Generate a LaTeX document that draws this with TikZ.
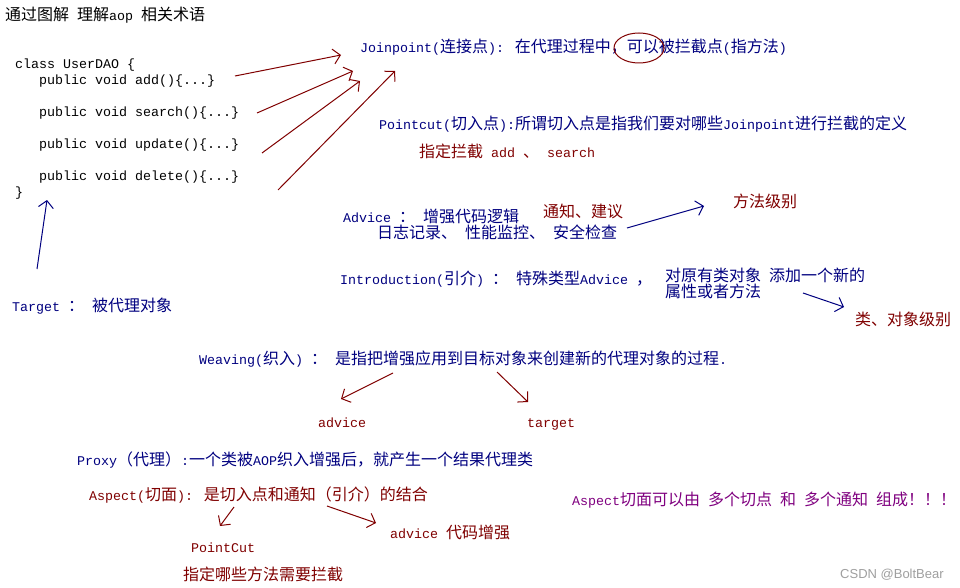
\documentclass[tikz,border=0pt]{standalone}
\usepackage{fontspec}
\setmainfont{Liberation Mono}[Scale=0.8333]
\newfontfamily\zhfont{Noto Sans CJK SC}
\newfontfamily\wmfont{Liberation Sans}
\newcommand\zh[1]{{\zhfont #1}}
\usetikzlibrary{arrows.meta}
\definecolor{aopblue}{RGB}{0,0,128}
\definecolor{aopred}{RGB}{128,0,0}
\definecolor{aoppurple}{RGB}{128,0,128}
\begin{document}
\begin{tikzpicture}[x=1pt,y=-1pt,font=\fontsize{16}{16}\selectfont,
  txt/.style={anchor=west,inner sep=0pt,text height=11pt,text depth=0pt},
  blu/.style={txt,text=aopblue},
  red/.style={txt,text=aopred},
  arr/.style={line width=1pt,-{Straight Barb[length=7pt,width=15pt]}}]
\fill[white] (0,0) rectangle (960,588);
\useasboundingbox (0,0) rectangle (960,588);
% title and the class
\node[txt] (title) at (5,15) {\zh{通过图解} \zh{理解}aop \zh{相关术语}};
\node[txt] (cls) at (15,63) {class UserDAO \{};
\node[txt] (add) at (39,79) {public void add()\{...\}};
\node[txt] (search) at (39,111) {public void search()\{...\}};
\node[txt] (update) at (39,143) {public void update()\{...\}};
\node[txt] (delete) at (39,175) {public void delete()\{...\}};
\node[txt] (close) at (15,191) {\}};
% joinpoint, pointcut
\node[blu] (jp) at (360,47) {Joinpoint(\zh{连接点}): \zh{在代理过程中，可以被拦截点}(\zh{指方法})};
\draw[aopred,line width=1pt] (639,48) ellipse [x radius=25,y radius=15];
\node[blu] (pc) at (379,124) {Pointcut(\zh{切入点}):\zh{所谓切入点是指我们要对哪些}Joinpoint\zh{进行拦截的定义}};
\node[red] (pcadd) at (419,152) {\zh{指定拦截} add \zh{、} search};
\coordinate (s1) at (235,76);  \coordinate (j1) at (341,55);
\coordinate (s2) at (257,113); \coordinate (j2) at (353,71);
\coordinate (s3) at (262,153); \coordinate (j3) at (360,81);
\coordinate (s4) at (278,190); \coordinate (j4) at (395,71);
\foreach \i in {1,...,4}
  \draw[arr,aopred] (s\i) -- (j\i);
% advice, introduction
\node[blu] (adv) at (343,217) {Advice \zh{：} \zh{增强代码逻辑}};
\node[blu] (advex) at (377,233) {\zh{日志记录、} \zh{性能监控、} \zh{安全检查}};
\node[red] (advzh) at (543,212) {\zh{通知、建议}};
\node[red] (mlevel) at (733,202) {\zh{方法级别}};
\coordinate (a1) at (627,228); \coordinate (a2) at (704,206);
\draw[arr,aopblue] (a1) -- (a2);
\node[blu] (intro) at (340,279) {Introduction(\zh{引介}) \zh{：} \zh{特殊类型}Advice \zh{，}};
\node[blu] (introex) at (665,276) {\zh{对原有类对象} \zh{添加一个新的}};
\node[blu] (introex2) at (665,292) {\zh{属性或者方法}};
\node[red] (clevel) at (855,320) {\zh{类、对象级别}};
\coordinate (i1) at (803,293); \coordinate (i2) at (844,307);
\draw[arr,aopblue] (i1) -- (i2);
% target
\node[blu] (tgt) at (12,306) {Target \zh{：} \zh{被代理对象}};
\coordinate (t1) at (37,269); \coordinate (t2) at (47,200);
\draw[arr,aopblue] (t1) -- (t2);
% weaving
\node[blu] (weave) at (199,359) {Weaving(\zh{织入}) \zh{：} \zh{是指把增强应用到目标对象来创建新的代理对象的过程}.};
\node[red] (wadv) at (318,422) {advice};
\node[red] (wtgt) at (527,422) {target};
\coordinate (w1) at (393,373); \coordinate (w2) at (341,399);
\coordinate (w3) at (497,372); \coordinate (w4) at (528,402);
\draw[arr,aopred] (w1) -- (w2);
\draw[arr,aopred] (w3) -- (w4);
% proxy, aspect
\node[blu] (proxy) at (77,460) {Proxy\zh{（代理）}:\zh{一个类被}AOP\zh{织入增强后，就产生一个结果代理类}};
\node[red] (asp) at (89,495) {Aspect(\zh{切面}): \zh{是切入点和通知（引介）的结合}};
\node[red] (apc) at (191,547) {PointCut};
\node[red] (apcex) at (183,575) {\zh{指定哪些方法需要拦截}};
\node[red] (aadv) at (390,533) {advice \zh{代码增强}};
\coordinate (p1) at (234,507); \coordinate (p2) at (220,526);
\coordinate (p3) at (327,506); \coordinate (p4) at (376,523);
\draw[arr,aopred] (p1) -- (p2);
\draw[arr,aopred] (p3) -- (p4);
\node[txt,text=aoppurple] (sum) at (572,500) {Aspect\zh{切面可以由} \zh{多个切点} \zh{和} \zh{多个通知} \zh{组成！！！}};
\node[txt,text=gray!75,font=\wmfont\fontsize{13}{13}\selectfont] (wm) at (840,573) {CSDN @BoltBear};
\end{tikzpicture}
\end{document}
